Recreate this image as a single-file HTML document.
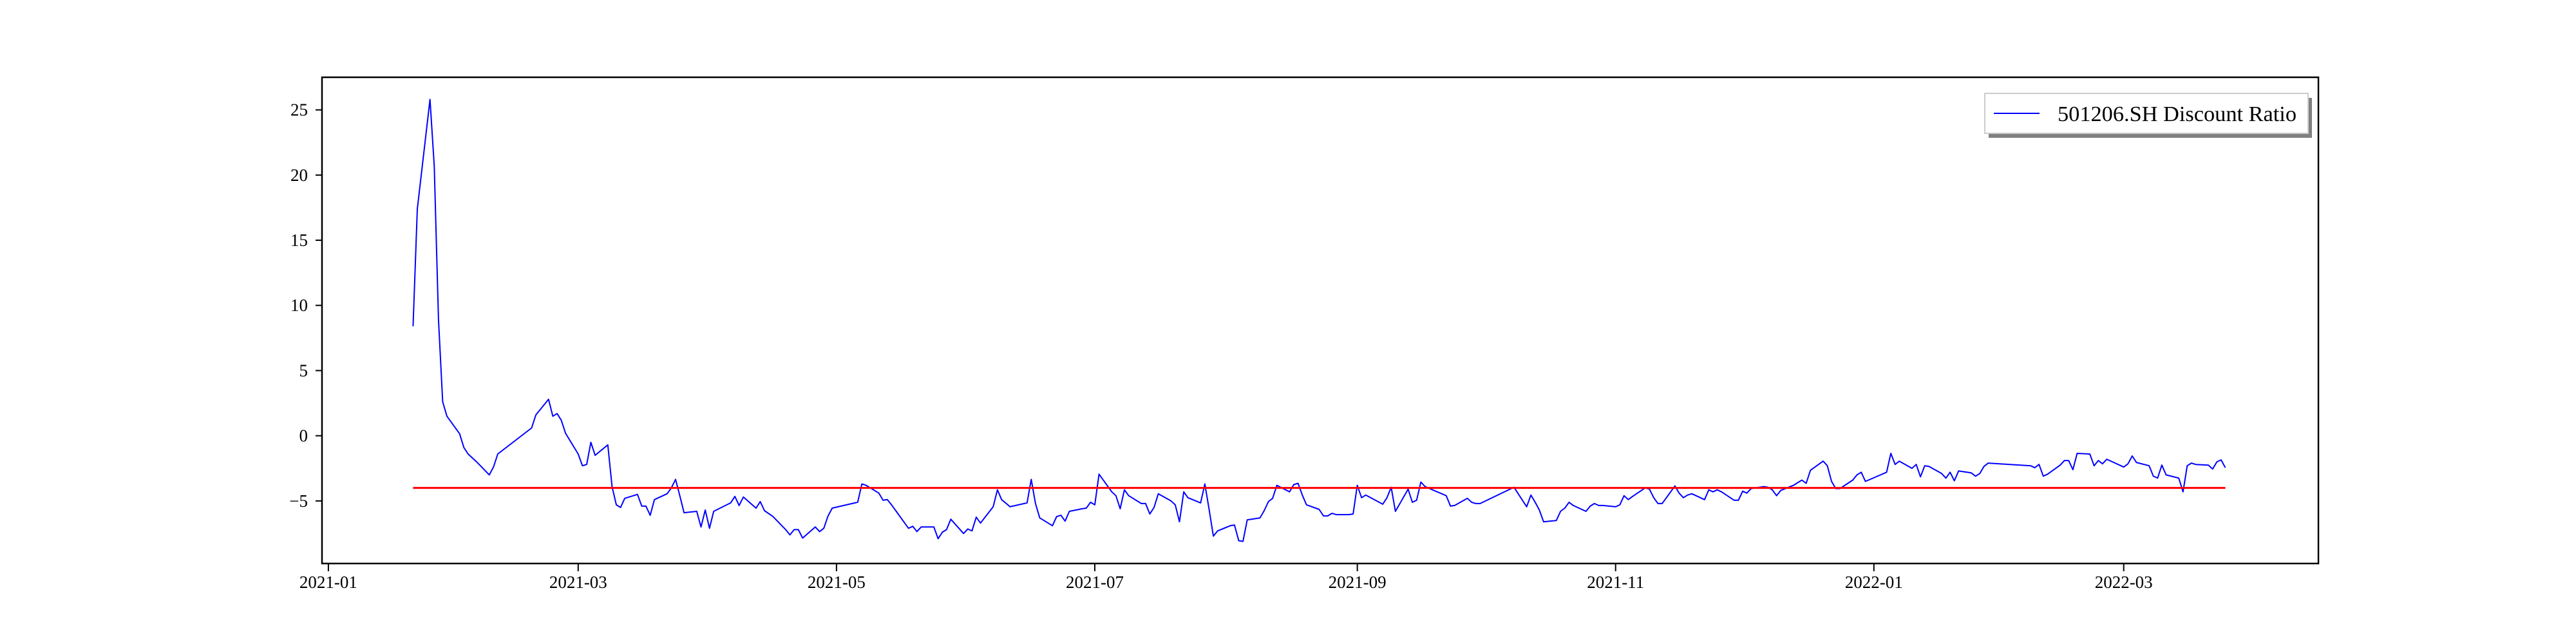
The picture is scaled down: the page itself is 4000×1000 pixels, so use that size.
<!DOCTYPE html>
<html><head><meta charset="utf-8"><style>
html,body{margin:0;padding:0;background:#fff;}
svg{display:block;font-family:"Liberation Serif",serif;}
</style></head><body>
<svg id="chart" width="4000" height="1000" viewBox="0 0 4000 1000">
<rect x="0" y="0" width="4000" height="1000" fill="#fff"/>
</svg>
<script>
const dates = ["2021-01-21","2021-01-22","2021-01-25","2021-01-26","2021-01-27","2021-01-28","2021-01-29","2021-02-01","2021-02-02","2021-02-03","2021-02-05","2021-02-08","2021-02-09","2021-02-10","2021-02-18","2021-02-19","2021-02-22","2021-02-23","2021-02-24","2021-02-25","2021-02-26","2021-03-01","2021-03-02","2021-03-03","2021-03-04","2021-03-05","2021-03-08","2021-03-09","2021-03-10","2021-03-11","2021-03-12","2021-03-15","2021-03-16","2021-03-17","2021-03-18","2021-03-19","2021-03-22","2021-03-23","2021-03-24","2021-03-25","2021-03-26","2021-03-29","2021-03-30","2021-03-31","2021-04-01","2021-04-02","2021-04-06","2021-04-07","2021-04-08","2021-04-09","2021-04-12","2021-04-13","2021-04-14","2021-04-16","2021-04-19","2021-04-20","2021-04-21","2021-04-22","2021-04-23","2021-04-26","2021-04-27","2021-04-28","2021-04-29","2021-04-30","2021-05-06","2021-05-07","2021-05-08","2021-05-11","2021-05-12","2021-05-13","2021-05-14","2021-05-17","2021-05-18","2021-05-19","2021-05-20","2021-05-21","2021-05-24","2021-05-25","2021-05-26","2021-05-27","2021-05-28","2021-05-31","2021-06-01","2021-06-02","2021-06-03","2021-06-04","2021-06-07","2021-06-08","2021-06-09","2021-06-11","2021-06-15","2021-06-16","2021-06-17","2021-06-18","2021-06-21","2021-06-22","2021-06-23","2021-06-24","2021-06-25","2021-06-28","2021-06-29","2021-06-30","2021-07-01","2021-07-02","2021-07-05","2021-07-06","2021-07-07","2021-07-08","2021-07-09","2021-07-12","2021-07-13","2021-07-14","2021-07-15","2021-07-16","2021-07-19","2021-07-20","2021-07-21","2021-07-22","2021-07-23","2021-07-26","2021-07-27","2021-07-28","2021-07-29","2021-07-30","2021-08-02","2021-08-03","2021-08-04","2021-08-05","2021-08-06","2021-08-09","2021-08-10","2021-08-11","2021-08-12","2021-08-13","2021-08-16","2021-08-17","2021-08-18","2021-08-19","2021-08-20","2021-08-23","2021-08-24","2021-08-25","2021-08-26","2021-08-27","2021-08-30","2021-08-31","2021-09-01","2021-09-02","2021-09-03","2021-09-07","2021-09-08","2021-09-09","2021-09-10","2021-09-13","2021-09-14","2021-09-15","2021-09-16","2021-09-17","2021-09-22","2021-09-23","2021-09-24","2021-09-27","2021-09-28","2021-09-29","2021-09-30","2021-10-08","2021-10-11","2021-10-12","2021-10-13","2021-10-14","2021-10-15","2021-10-18","2021-10-19","2021-10-20","2021-10-21","2021-10-22","2021-10-25","2021-10-26","2021-10-27","2021-10-28","2021-10-29","2021-11-01","2021-11-02","2021-11-03","2021-11-04","2021-11-05","2021-11-08","2021-11-09","2021-11-10","2021-11-11","2021-11-12","2021-11-15","2021-11-16","2021-11-17","2021-11-18","2021-11-19","2021-11-22","2021-11-23","2021-11-24","2021-11-25","2021-11-26","2021-11-29","2021-11-30","2021-12-01","2021-12-02","2021-12-03","2021-12-06","2021-12-07","2021-12-08","2021-12-09","2021-12-10","2021-12-13","2021-12-14","2021-12-15","2021-12-16","2021-12-17","2021-12-20","2021-12-21","2021-12-22","2021-12-23","2021-12-24","2021-12-27","2021-12-28","2021-12-29","2021-12-30","2022-01-04","2022-01-05","2022-01-06","2022-01-07","2022-01-10","2022-01-11","2022-01-12","2022-01-13","2022-01-14","2022-01-17","2022-01-18","2022-01-19","2022-01-20","2022-01-21","2022-01-24","2022-01-25","2022-01-26","2022-01-27","2022-01-28","2022-02-07","2022-02-08","2022-02-09","2022-02-10","2022-02-11","2022-02-14","2022-02-15","2022-02-16","2022-02-17","2022-02-18","2022-02-21","2022-02-22","2022-02-23","2022-02-24","2022-02-25","2022-03-01","2022-03-02","2022-03-03","2022-03-04","2022-03-07","2022-03-08","2022-03-09","2022-03-10","2022-03-11","2022-03-14","2022-03-15","2022-03-16","2022-03-17","2022-03-18","2022-03-21","2022-03-22","2022-03-23","2022-03-24","2022-03-25"];
const ratios = [8.4,17.4,25.8,20.7,8.9,2.6,1.5,0.15,-0.9,-1.4,-2.0,-3.0,-2.4,-1.4,0.6,1.6,2.8,1.5,1.7,1.2,0.2,-1.4,-2.3,-2.2,-0.5,-1.5,-0.7,-3.9,-5.3,-5.5,-4.8,-4.5,-5.4,-5.4,-6.1,-4.9,-4.45,-4.0,-3.35,-4.6,-5.9,-5.8,-7.0,-5.7,-7.1,-5.8,-5.15,-4.65,-5.35,-4.7,-5.55,-5.05,-5.75,-6.2,-7.2,-7.6,-7.2,-7.2,-7.85,-7.0,-7.35,-7.1,-6.15,-5.55,-5.1,-3.7,-3.8,-4.4,-4.95,-4.9,-5.3,-6.65,-7.1,-6.95,-7.35,-7.0,-7.0,-7.9,-7.4,-7.2,-6.4,-7.5,-7.15,-7.3,-6.25,-6.7,-5.45,-4.15,-4.9,-5.45,-5.15,-3.35,-5.2,-6.3,-6.9,-6.2,-6.1,-6.55,-5.8,-5.6,-5.55,-5.1,-5.3,-2.95,-4.3,-4.6,-5.6,-4.15,-4.6,-5.2,-5.2,-6.0,-5.5,-4.45,-5.0,-5.3,-6.6,-4.3,-4.75,-5.15,-3.7,-5.65,-7.7,-7.3,-6.9,-6.85,-8.05,-8.1,-6.45,-6.3,-5.75,-5.05,-4.8,-3.8,-4.3,-3.75,-3.65,-4.55,-5.3,-5.65,-6.15,-6.15,-5.95,-6.05,-6.05,-6.0,-3.8,-4.75,-4.55,-5.25,-4.75,-3.95,-5.8,-4.1,-5.1,-4.95,-3.55,-3.9,-4.6,-5.4,-5.35,-4.8,-5.1,-5.2,-5.2,-3.95,-5.45,-4.55,-5.1,-5.7,-6.6,-6.5,-5.8,-5.55,-5.1,-5.35,-5.8,-5.4,-5.2,-5.35,-5.35,-5.45,-5.3,-4.6,-4.9,-4.65,-4.0,-4.1,-4.75,-5.2,-5.2,-3.85,-4.4,-4.75,-4.55,-4.45,-4.9,-4.15,-4.3,-4.15,-4.3,-4.95,-4.95,-4.25,-4.4,-4.05,-3.9,-3.95,-4.15,-4.6,-4.2,-3.8,-3.6,-3.4,-3.65,-2.65,-1.95,-2.3,-3.5,-4.05,-4.05,-3.4,-3.0,-2.8,-3.5,-2.8,-1.35,-2.2,-1.95,-2.5,-2.2,-3.15,-2.3,-2.35,-2.9,-3.25,-2.8,-3.45,-2.7,-2.85,-3.1,-2.9,-2.35,-2.1,-2.3,-2.45,-2.2,-3.1,-2.95,-2.25,-1.9,-1.9,-2.6,-1.35,-1.4,-2.3,-1.9,-2.15,-1.8,-2.4,-2.15,-1.55,-2.05,-2.3,-3.1,-3.25,-2.25,-3.0,-3.25,-4.3,-2.3,-2.1,-2.2,-2.25,-2.55,-2.0,-1.85,-2.45];
const thresholdValue = -4;
const yTicks = [-5,0,5,10,15,20,25];
const xTickLabels = ["2021-01","2021-03","2021-05","2021-07","2021-09","2021-11","2022-01","2022-03"];

const NS = "http://www.w3.org/2000/svg";
const svg = document.getElementById('chart');
const L = 500, R = 3600, T = 120, B = 875;
const dayOf = s => { const p = s.split('-').map(Number); return (Date.UTC(p[0], p[1]-1, p[2] || 1) - Date.UTC(2021,0,1)) / 86400000; };
const xScale = s => 509.9 + dayOf(s) * 6.575;
const yScale = v => 757.6 - (v + 4) * 20.24;
function mk(tag, attrs, parent) {
  const e = document.createElementNS(NS, tag);
  for (const k in attrs) e.setAttribute(k, attrs[k]);
  (parent || svg).appendChild(e);
  return e;
}
const pts = dates.map((d, i) => xScale(d).toFixed(1) + ',' + yScale(ratios[i]).toFixed(1)).join(' ');
const line = mk('polyline', {points: pts, fill: 'none', stroke: '#0000ff', 'stroke-width': 2, 'stroke-linejoin': 'round'});


const th = mk('line', {x1: xScale(dates[0]), x2: xScale(dates[dates.length-1]), y1: yScale(thresholdValue), y2: yScale(thresholdValue), stroke: '#ff0000', 'stroke-width': 3});


const frame = mk('rect', {x: L, y: T, width: R - L, height: B - T, fill: 'none', stroke: '#000', 'stroke-width': 2.5});


yTicks.forEach(v => {
  const y = yScale(v);
  const t = mk('line', {x1: L - 10, x2: L, y1: y, y2: y, stroke: '#000', 'stroke-width': 2});
  
  
  const lb = mk('text', {x: 478, y: y + 9, 'text-anchor': 'end', 'font-size': 27, fill: '#000'});
  lb.textContent = v < 0 ? '\u2212' + Math.abs(v) : String(v);
  
  
});
xTickLabels.forEach(s => {
  const x = xScale(s);
  const t = mk('line', {x1: x, x2: x, y1: B, y2: B + 12, stroke: '#000', 'stroke-width': 2});
  
  
  const lb = mk('text', {x: x, y: 913, 'text-anchor': 'middle', 'font-size': 27, fill: '#000'});
  lb.textContent = s;
  
  
});
const lg = mk('g', {});


const sh = mk('rect', {x: 3088, y: 152, width: 502, height: 62, fill: '#808080'}, lg);


const bx = mk('rect', {x: 3082, y: 145, width: 502, height: 62, fill: '#fff', stroke: '#cccccc', 'stroke-width': 2}, lg);


const ll = mk('line', {x1: 3096, x2: 3167, y1: 176, y2: 176, stroke: '#0000ff', 'stroke-width': 2}, lg);


const lt = mk('text', {x: 3195, y: 188, 'font-size': 34, fill: '#000', textLength: 371, lengthAdjust: 'spacingAndGlyphs'}, lg);
lt.textContent = '501206.SH Discount Ratio';


</script>
</body></html>
